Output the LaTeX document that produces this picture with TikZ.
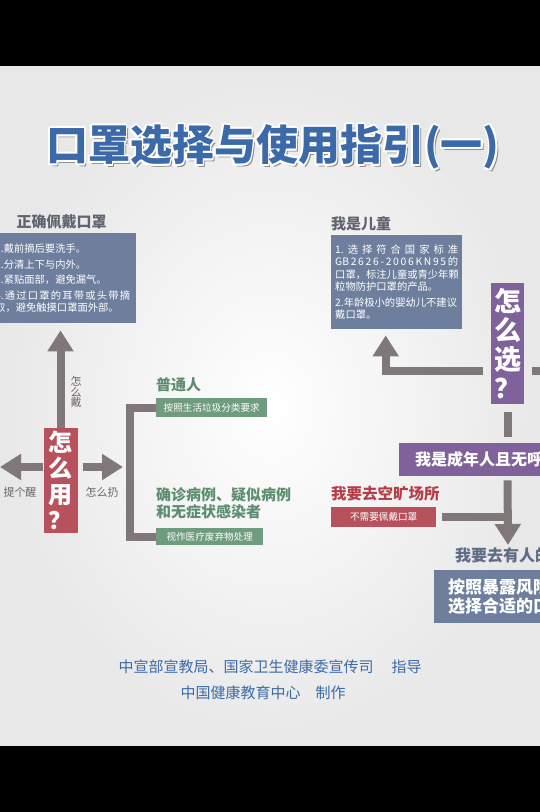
\documentclass[tikz,border=0pt]{standalone}
\usepackage{fontspec}
\setmainfont{Noto Sans CJK SC}
\usetikzlibrary{arrows.meta,positioning,calc}
\definecolor{boxblue}{RGB}{110,127,157}
\definecolor{arrowgray}{RGB}{128,120,120}
\definecolor{boxred}{RGB}{183,82,92}
\definecolor{textred}{RGB}{182,62,72}
\definecolor{boxgreen}{RGB}{111,155,127}
\definecolor{textgreen}{RGB}{92,142,110}
\definecolor{boxpurple}{RGB}{128,98,155}
\definecolor{titleblue}{RGB}{60,106,169}
\definecolor{headgray}{RGB}{95,100,112}
\definecolor{bgedge}{RGB}{232,232,232}
\newcommand{\pxfont}[2]{\fontsize{#1}{#2}\selectfont}
\newcommand{\titlestr}{口罩选择与使用指引(一)}
\newcommand{\gap}{\hfill}

\begin{document}
\begin{tikzpicture}[x=1pt,y=-1pt,every node/.style={inner sep=0pt},
  infobox/.style={fill=boxblue,text=white,anchor=north west,align=left,font=\pxfont{10.3}{12.5}},
  tagbox/.style={anchor=north west,text=white,font=\pxfont{9.6}{10}},
  bigq/.style={text=white,align=center},
  head/.style={font=\bfseries\pxfont{15}{17},align=left},
  side/.style={text=arrowgray!85!black,font=\pxfont{11}{11},align=center},
  titlefnt/.style={font=\bfseries\pxfont{42}{42}},
  garrow/.style={draw=arrowgray,line width=8pt,-{Triangle[width=25pt,length=21pt]}},
  gline/.style={draw=arrowgray,line width=8pt}]

  \useasboundingbox (0,0) rectangle (540,812);
  \clip (0,0) rectangle (540,812);

  % ── paper and black bars ─────────────────────────────────────────
  \shade[inner color=white,outer color=bgedge] (0,66) rectangle (540,746);
  \fill[black] (0,0) rectangle (540,66);
  \fill[black] (0,746) rectangle (540,812);

  % ── title ───────────────────────────────────────────────────────
  \coordinate (titlepos) at (273,147);
  \node[titlefnt,text=black!45] at ($(titlepos)+(2.5,2.5)$) {\titlestr};
  \foreach \dx/\dy in {1.8/0,-1.8/0,0/1.8,0/-1.8,1.3/1.3,-1.3/1.3,1.3/-1.3,-1.3/-1.3}
    \node[titlefnt,text=white] at ($(titlepos)+(\dx,\dy)$) {\titlestr};
  \node[titlefnt,text=titleblue] (title) at (titlepos) {\titlestr};

  % ── left: how to wear / use ─────────────────────────────────────
  \node[head,text=headgray] (wearhead) at (61.5,222) {正确佩戴口罩};
  \node[infobox,inner xsep=6pt,text width=135pt,minimum height=90pt] (wearbox) at (-11,233)
    {1.戴前摘后要洗手。\\[3pt]
     2.分清上下与内外。\\[3pt]
     3.紧贴面部，避免漏气。\\[3pt]
     \makebox[\linewidth][s]{4.\gap 通\gap 过\gap 口\gap 罩\gap 的\gap 耳\gap 带\gap 或\gap 头\gap 带\gap 摘}\\
     取，避免触摸口罩面外部。};

  \node[bigq,fill=boxred,minimum width=34pt,minimum height=105pt,
        font=\bfseries\pxfont{24}{26}] (yong) at (60.5,480.5) {怎\\么\\用\\？};

  \node[side,font=\pxfont{11}{10.5}] (wearlbl) at (76,392) {怎\\么\\戴};
  \node[side] (remind) at (20,492) {提个醒};
  \node[side] (throwlbl) at (102,492) {怎么扔};

  \coordinate (tipL) at (0,467);
  \coordinate (tipR) at (123,467);

  \draw[garrow,shorten >=7pt] (yong.north) -- (yong.north |- wearbox.south);
  \draw[garrow] ([yshift=13.5pt]yong.west) -- (tipL);
  \draw[garrow,shorten <=5pt] ([yshift=13.5pt]yong.east) -- (tipR);

  % waste groups
  \node[head,text=textgreen,anchor=west] (normal) at (156,385) {普通人};
  \node[tagbox,fill=boxgreen,minimum width=111pt,minimum height=19pt] (bin1) at (156,398)
    {按照生活垃圾分类要求};
  \node[head,text=textgreen,anchor=north west] (sick) at (156,487)
    {确诊病例、疑似病例\\和无症状感染者};
  \node[tagbox,fill=boxgreen,minimum width=107pt,minimum height=17pt] (bin2) at (156,528)
    {视作医疗废弃物处理};

  \draw[gline] (bin1.west) -- ++(-26,0) |- (bin2.west);

  % ── right: how to choose ────────────────────────────────────────
  \node[head,text=headgray,anchor=west] (childhead) at (331,224) {我是儿童};
  \node[infobox,inner xsep=4pt,text width=123pt,minimum height=94pt] (childbox) at (331,235)
    {\makebox[\linewidth][s]{1.\gap 选\gap 择\gap 符\gap 合\gap 国\gap 家\gap 标\gap 准}\\
     \makebox[\linewidth][s]{GB\gap 2\gap 6\gap 2\gap 6\gap -\gap 2\gap 0\gap 0\gap 6\gap K\gap N\gap 9\gap 5\gap 的}\\
     口罩，标注儿童或青少年颗\\
     粒物防护口罩的产品。\\[3pt]
     2.年龄极小的婴幼儿不建议\\
     戴口罩。};

  \node[bigq,fill=boxpurple,minimum width=33pt,minimum height=121pt,
        font=\bfseries\pxfont{27}{29}] (xuan) at (507.5,343.5) {怎\\么\\选\\？};

  \node[fill=boxpurple,anchor=north west,text=white,align=left,text width=134pt,
        inner xsep=16pt,minimum height=33pt,font=\bfseries\pxfont{16}{16}] (adult) at (399,443)
    {我是成年人且无呼};

  \node[head,text=textred,anchor=west,font=\bfseries\pxfont{15.5}{16}] (open) at (331,494)
    {我要去空旷场所};
  \node[tagbox,fill=boxred,minimum width=105pt,minimum height=20pt] (nomask) at (331,507)
    {不需要佩戴口罩};

  \node[head,text=boxblue!85!black,anchor=west,font=\bfseries\pxfont{16}{16}] (crowd) at (455,555)
    {我要去有人的};
  \node[fill=boxblue,anchor=north west,text=white,align=left,text width=120pt,inner xsep=14pt,
        minimum height=53pt,font=\bfseries\pxfont{17}{18.5}] (riskbox) at (434,570)
    {按照暴露风险\\选择合适的口};

  \coordinate (offR) at (548,370.5);
  \coordinate (tipD) at (508,545);

  \draw[garrow,shorten <=8pt,shorten >=6pt] ([yshift=-27pt]xuan.west) -| ([xshift=-11pt]childbox.south);
  \draw[gline,shorten <=8pt] ([yshift=-27pt]xuan.east) -- (offR);
  \draw[gline,shorten <=8pt,shorten >=6pt] (xuan.south) -- (xuan.south |- adult.north);
  \draw[garrow,shorten <=4pt] (xuan.south |- adult.south) -- (tipD);
  \draw[gline,shorten <=6pt] (nomask.east) -- (nomask.east -| tipD);

  % ── footer ──────────────────────────────────────────────────────
  \node[font=\pxfont{15}{15},text=titleblue] (guide) at (270,667)
    {中宣部宣教局、国家卫生健康委宣传司\hspace{18pt}指导};
  \node[font=\pxfont{15}{15},text=titleblue] (maker) at (263,693)
    {中国健康教育中心\hspace{15pt}制作};

\end{tikzpicture}
\end{document}
